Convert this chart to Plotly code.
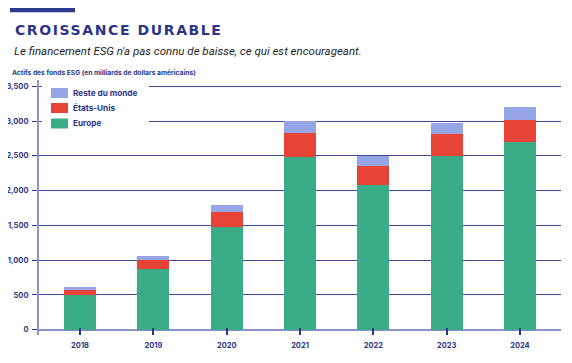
import plotly.graph_objects as go

years = ["2018", "2019", "2020", "2021", "2022", "2023", "2024"]
europe = [498, 872, 1476, 2481, 2079, 2500, 2701]
etats_unis = [72, 125, 215, 345, 273, 312, 312]
reste_monde = [43, 62, 101, 177, 144, 158, 191]
y_ticks = [0, 500, 1000, 1500, 2000, 2500, 3000, 3500]
y_tick_labels = ["0", "500", "1,000", "1,500", "2,000", "2,500", "3,000", "3,500"]

NAVY = "#2c3588"
GREEN = "#3aac88"
RED = "#e84337"
LIGHT = "#95a5e6"
FONT = "Inter"

fig = go.Figure()
for name, vals, col in [("Europe", europe, GREEN), ("États-Unis", etats_unis, RED),
                        ("Reste du monde", reste_monde, LIGHT)]:
    fig.add_trace(go.Bar(x=years, y=vals, name=name, marker_color=col,
                         marker_line_width=0, width=0.435, showlegend=False))

fig.update_layout(
    width=572, height=363, barmode="stack",
    margin=dict(l=31, r=19, t=72, b=36),
    paper_bgcolor="white", plot_bgcolor="white",
    font=dict(family=FONT, color=NAVY),
    xaxis=dict(range=[-0.56, 6.56], showgrid=False, showline=False, zeroline=False,
               automargin=False,
               ticks="inside", ticklen=7, tickwidth=1.5, tickcolor=NAVY,
               tickfont=dict(size=7.5, color=NAVY, weight="bold"), ticklabelstandoff=4),
    yaxis=dict(range=[-75, 3590], tickvals=y_ticks, ticktext=y_tick_labels,
               automargin=False,
               showgrid=True, gridcolor="#3d4a98", gridwidth=1.3,
               showline=True, linecolor="#8a92c8", linewidth=2,
               zeroline=True, zerolinecolor="#8a92c8", zerolinewidth=2,
               ticks="outside", ticklen=5, tickwidth=1.3, tickcolor=NAVY,
               tickfont=dict(size=7.5, color=NAVY, weight="bold"), ticklabelstandoff=2),
)

shapes = [
    dict(type="rect", xref="paper", yref="paper", x0=3/522, x1=110/522,
         y0=(335-126)/255, y1=(335-84)/255, fillcolor="white", line_width=0, layer="above"),
    dict(type="rect", xref="paper", yref="paper", x0=-29/522, x1=36/522,
         y0=(335-12.3)/255, y1=(335-5.7)/255, fillcolor="#2e3a8f", line_width=0, layer="above"),
]
legend_items = [("Reste du monde", LIGHT, 93), ("États-Unis", RED, 108), ("Europe", GREEN, 123.5)]
annotations = []
for label, col, yc in legend_items:
    shapes.append(dict(type="rect", xref="paper", yref="paper", x0=12/522, x1=29/522,
                       y0=(335-yc-5)/255, y1=(335-yc+5)/255, fillcolor=col, line_width=0, layer="above"))
    annotations.append(dict(text=label, xref="paper", yref="paper", x=32/522, y=(335-yc)/255,
                            xanchor="left", yanchor="middle", showarrow=False,
                            font=dict(size=8.2, color=NAVY, family=FONT, weight="bold")))

annotations += [
    dict(text='<span style="letter-spacing:1.6px">CROISSANCE DURABLE</span>', xref="paper", yref="paper",
         x=-26/522, y=(335-30)/255, xanchor="left", yanchor="middle", showarrow=False,
         font=dict(size=14, color=NAVY, family="DejaVu Sans", weight="bold")),
    dict(text="<i>Le financement ESG n'a pas connu de baisse, ce qui est encourageant.</i>",
         xref="paper", yref="paper", x=-27/522, y=(335-51)/255, xanchor="left", yanchor="middle",
         showarrow=False, font=dict(size=11.5, color="#1e1e2a", family="Roboto")),
    dict(text="Actifs des fonds ESG (en milliards de dollars américains)",
         xref="paper", yref="paper", x=-29/522, y=(335-73)/255, xanchor="left", yanchor="middle",
         showarrow=False, font=dict(size=6.7, color=NAVY, family=FONT, weight="bold")),
]
fig.update_layout(shapes=shapes, annotations=annotations)
fig.write_html("out.html")
